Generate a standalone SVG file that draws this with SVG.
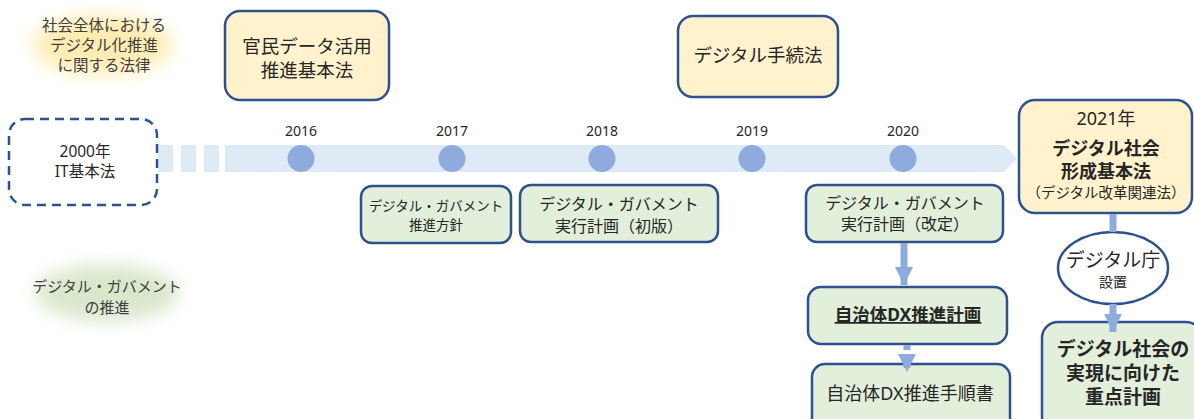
<svg xmlns="http://www.w3.org/2000/svg" width="1194" height="419" viewBox="0 0 1194 419">
<defs>
<filter id="blur" x="-30%" y="-40%" width="160%" height="180%">
<feGaussianBlur stdDeviation="9"/>
</filter>
<marker id="ah" viewBox="0 0 10 10" refX="10" refY="5" markerWidth="2.6" markerHeight="2.6" orient="auto" markerUnits="strokeWidth">
<path d="M0,0 L10,5 L0,10 z" fill="#8FAADC"/>
</marker>
</defs>
<style>
text{font-family:"Noto Sans","Noto Sans CJK JP",sans-serif;fill:#262626;text-anchor:middle}
.y{fill:#FFF2CC;stroke:#2F528F;stroke-width:2.5}
.g{fill:#E2EFDA;stroke:#2F528F;stroke-width:2.5}
.dot{fill:#8FAADC}
.band{fill:#DEEBF7}
.yr{font-size:14px}
.c{stroke:#8FAADC;stroke-width:7;fill:none}
.b{font-weight:bold}
.lg{fill:#404040}
</style>
<rect width="1194" height="419" fill="#ffffff"/>
<g id="legend-law">
<ellipse cx="103" cy="45" rx="70" ry="30" fill="#FFE699" opacity="0.75" filter="url(#blur)"/>
<text class="lg" x="104" y="31" font-size="15.5">社会全体における</text>
<text class="lg" x="104" y="51" font-size="15.5">デジタル化推進</text>
<text class="lg" x="104" y="71" font-size="15.5">に関する法律</text>
</g>
<g id="legend-gov">
<ellipse cx="107" cy="293" rx="72" ry="28" fill="#C9DDB5" opacity="0.7" filter="url(#blur)"/>
<text class="lg" x="107" y="292" font-size="15">デジタル・ガバメント</text>
<text class="lg" x="107" y="313" font-size="15">の推進</text>
</g>
<g id="timeline">
<rect class="band" x="158" y="145" width="15" height="27"/>
<rect class="band" x="181" y="145" width="15" height="27"/>
<rect class="band" x="204" y="145" width="15" height="27"/>
<path class="band" d="M225,145 H1004 L1017,158.5 L1004,172 H225 z"/>
<circle class="dot" cx="301" cy="158.5" r="13.5"/>
<circle class="dot" cx="452" cy="158.5" r="13.5"/>
<circle class="dot" cx="602" cy="158.5" r="13.5"/>
<circle class="dot" cx="752" cy="158.5" r="13.5"/>
<circle class="dot" cx="903" cy="158.5" r="13.5"/>
<text class="yr" x="301" y="136">2016</text>
<text class="yr" x="452" y="136">2017</text>
<text class="yr" x="602" y="136">2018</text>
<text class="yr" x="752" y="136">2019</text>
<text class="yr" x="903" y="136">2020</text>
</g>
<g id="it">
<rect x="9" y="119" width="148" height="86" rx="16" fill="#ffffff" stroke="#2F528F" stroke-width="2.5" stroke-dasharray="9,6"/>
<text x="85" y="157" font-size="15.5">2000年</text>
<text x="85" y="177" font-size="15.5">IT基本法</text>
</g>
<g id="kanmin">
<rect class="y" x="225" y="11" width="164" height="89" rx="15"/>
<text x="307" y="53" font-size="18.5">官民データ活用</text>
<text x="307" y="77" font-size="18.5">推進基本法</text>
</g>
<g id="tetsuzuki">
<rect class="y" x="678" y="16" width="160" height="81" rx="15"/>
<text x="758" y="62" font-size="18.5">デジタル手続法</text>
</g>
<g id="y2021">
<rect class="y" x="1019" y="100" width="173" height="113" rx="16"/>
<text x="1106" y="125" font-size="18">2021年</text>
<text class="b" x="1106" y="155" font-size="18">デジタル社会</text>
<text class="b" x="1106" y="178" font-size="18">形成基本法</text>
<text x="1106" y="198" font-size="14.5">（デジタル改革関連法）</text>
</g>
<g id="suishin">
<rect class="g" x="361" y="186" width="150" height="57" rx="11"/>
<text x="436" y="211" font-size="13.5">デジタル・ガバメント</text>
<text x="436" y="230" font-size="13.5">推進方針</text>
</g>
<g id="jikko1">
<rect class="g" x="520" y="185" width="198" height="57" rx="11"/>
<text x="619" y="210" font-size="16">デジタル・ガバメント</text>
<text x="619" y="232" font-size="16">実行計画（初版）</text>
</g>
<g id="jikko2">
<rect class="g" x="806" y="185" width="197" height="57" rx="11"/>
<text x="905" y="209" font-size="16">デジタル・ガバメント</text>
<text x="905" y="230" font-size="16">実行計画（改定）</text>
</g>
<g id="dxplan">
<rect class="g" x="808" y="287" width="199" height="57" rx="13"/>
<text class="b" x="908" y="321" font-size="17.5" text-decoration="underline">自治体DX推進計画</text>
</g>
<g id="dxguide">
<rect class="g" x="812" y="364" width="198" height="70" rx="13"/>
<text x="910" y="400" font-size="18">自治体DX推進手順書</text>
</g>
<g id="agency">
<ellipse cx="1113" cy="268" rx="55" ry="36" fill="#ffffff" stroke="#2F528F" stroke-width="2.5"/>
<text x="1113" y="267" font-size="19">デジタル庁</text>
<text x="1113" y="287" font-size="14">設置</text>
</g>
<g id="juten">
<rect class="g" x="1042" y="322" width="160" height="110" rx="16"/>
<text class="b" x="1123" y="356" font-size="19">デジタル社会の</text>
<text class="b" x="1123" y="380" font-size="19">実現に向けた</text>
<text class="b" x="1123" y="404" font-size="19">重点計画</text>
</g>
<g id="connectors">
<line class="c" x1="904" y1="243" x2="904" y2="285" marker-end="url(#ah)"/>
<line class="c" x1="907" y1="345" x2="907" y2="372" stroke-dasharray="5,4" marker-end="url(#ah)"/>
<line class="c" x1="1113" y1="214" x2="1113" y2="232"/>
<line class="c" x1="1113" y1="304" x2="1113" y2="332" marker-end="url(#ah)"/>
</g>
</svg>
